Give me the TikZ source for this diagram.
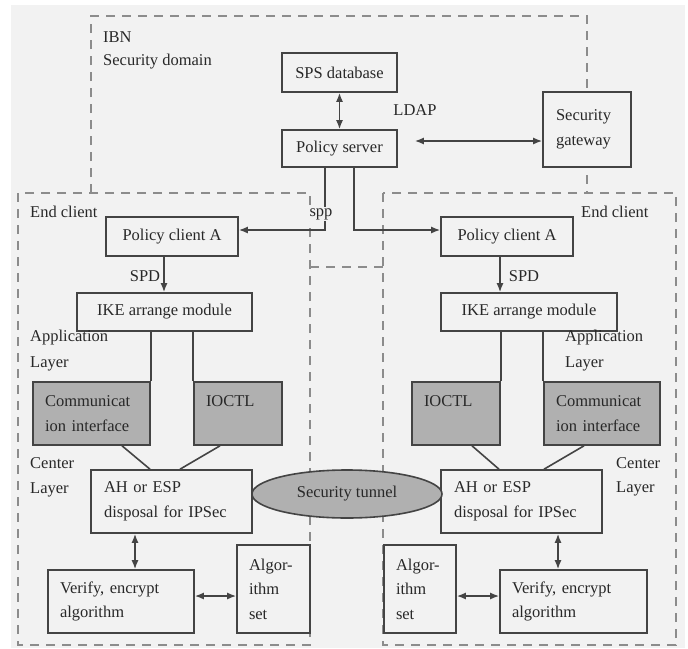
\documentclass[tikz,border=0pt]{standalone}
\usepackage{fontspec}
\setmainfont{Liberation Serif}
\usetikzlibrary{arrows.meta,shapes.geometric}
\definecolor{bg}{RGB}{242,242,242}
\definecolor{ln}{RGB}{68,68,68}
\definecolor{dsh}{RGB}{140,140,140}
\definecolor{gbox}{RGB}{176,176,176}
\definecolor{txt}{RGB}{40,40,40}
\begin{document}
\begin{tikzpicture}[x=1pt,y=-1pt,
  every node/.style={font=\fontsize{16.5}{24.5}\selectfont, text=txt, inner sep=0pt},
  bx/.style 2 args={draw=ln, line width=1.6pt, fill=bg, minimum width=#1, minimum height=#2},
  gbx/.style 2 args={bx={#1}{#2}, fill=gbox},
  ltxt/.style={align=left, text width=#1},
  lbl/.style={anchor=west},
  dashline/.style={draw=dsh, line width=1.6pt, dash pattern=on 9pt off 7pt},
  conn/.style={draw=ln, line width=1.6pt},
  arr/.style={conn, -{Latex[length=9pt,width=7pt]}},
  dbl/.style={conn, {Latex[length=9pt,width=7pt]}-{Latex[length=9pt,width=7pt]}}
]
\useasboundingbox (0,0) rectangle (688,648);
\fill[white] (0,0) rectangle (688,648);
\fill[bg] (11,5) rectangle (685,648);

% dashed domains
\draw[dashline] (91,193) -- (91,16) -- (587,16) -- (587,193);
\draw[dashline] (18,193) rectangle (310,645);
\draw[dashline] (383,193) rectangle (676,645);
\draw[dashline] (310,267) -- (383,267);

% top nodes
\node[bx={115}{39}] (spsdb) at (339.5,72.5) {SPS database};
\node[bx={115}{37}] (pserver) at (339.5,148.5) {Policy server};
\node[bx={88}{75}, ltxt=62] (gateway) at (587,129.5) {Security\\gateway};
\node[anchor=center] (ldap) at (415,110) {LDAP};
\node[lbl] (ibn) at (103,37) {IBN};
\node[lbl] (secdom) at (103,62) {Security domain};

% left client
\node[lbl] (endl) at (30,212) {End client};
\node[bx={132}{39}] (pcl) at (172,236.5) {Policy client A};
\node (spdl) at (145,276) {SPD};
\node[bx={175}{38}] (ikel) at (164.5,312) {IKE arrange module};
\node[lbl] (appl1) at (30,338) {Application};
\node[lbl] (appl2) at (30,364) {Layer};
\node[gbx={117}{63}, ltxt=93] (comml) at (91.5,413.5) {Communicat\\ion interface};
\node[gbx={88}{63}, ltxt=64] (ioctll) at (238,413.5) {IOCTL\\~};
\node[lbl] (centl1) at (30,463) {Center};
\node[lbl] (centl2) at (30,490) {Layer};
\node[bx={161}{63}, ltxt=135] (ahl) at (171.5,501.5) {AH or ESP\\disposal for IPSec};
\node[bx={146}{63}, ltxt=122] (verl) at (121,601.5) {Verify, encrypt\\algorithm};
\node[bx={73}{88}, ltxt=49] (algl) at (273.5,589) {Algor-\\ithm\\set};

% right client
\node[lbl] (endr) at (581,212) {End client};
\node[bx={132}{39}] (pcr) at (507,236.5) {Policy client A};
\node (spdr) at (524,276) {SPD};
\node[bx={176}{38}] (iker) at (529,312) {IKE arrange module};
\node[lbl] (appr1) at (565,338) {Application};
\node[lbl] (appr2) at (565,364) {Layer};
\node[gbx={88}{63}, ltxt=64] (ioctlr) at (456,413.5) {IOCTL\\~};
\node[gbx={116}{63}, ltxt=92] (commr) at (602,413.5) {Communicat\\ion interface};
\node[lbl] (centr1) at (616,463) {Center};
\node[lbl] (centr2) at (616,489) {Layer};
\node[bx={161}{63}, ltxt=135] (ahr) at (521.5,501.5) {AH or ESP\\disposal for IPSec};
\node[bx={147}{63}, ltxt=123] (verr) at (573.5,601.5) {Verify, encrypt\\algorithm};
\node[bx={72}{88}, ltxt=48] (algr) at (420,589) {Algor-\\ithm\\set};

% tunnel
\node[ellipse, draw=ln, line width=1.6pt, fill=gbox, minimum width=190, minimum height=48] (tunnel) at (347,494) {Security tunnel};

% connectors
\draw[dbl] (spsdb.south) -- (pserver.north);
\coordinate (ldapL) at ([xshift=17pt,yshift=7.5pt]pserver.east);
\draw[dbl] (ldapL) -- (ldapL -| gateway.west);
\draw[arr] ([xshift=-14.5pt]pserver.south) |- ([yshift=6.5pt]pcl.east);
\draw[arr] ([xshift=14.5pt]pserver.south) |- ([yshift=6.5pt]pcr.west);
\node[fill=bg, inner sep=1pt] (spp) at (321,214) {spp};

\coordinate (spdLtop) at ([xshift=-8pt]pcl.south);
\draw[arr] (spdLtop) -- (spdLtop |- ikel.north);
\coordinate (spdRtop) at ([xshift=-7pt]pcr.south);
\draw[arr] (spdRtop) -- (spdRtop |- iker.north);

\draw[conn] (ikel.south -| comml.east) -- (comml.north east);
\draw[conn] (ikel.south -| ioctll.west) -- (ioctll.north west);
\draw[conn] (iker.south -| ioctlr.east) -- (ioctlr.north east);
\draw[conn] (iker.south -| commr.west) -- (commr.north west);

\draw[conn] ([xshift=30.5pt]comml.south) -- ([xshift=-21.5pt]ahl.north);
\draw[conn] ([xshift=-18pt]ioctll.south) -- ([xshift=8.5pt]ahl.north);
\draw[conn] ([xshift=16pt]ioctlr.south) -- ([xshift=-22.5pt]ahr.north);
\draw[conn] ([xshift=-18pt]commr.south) -- ([xshift=22.5pt]ahr.north);

\coordinate (ahLb) at ([xshift=-36.5pt]ahl.south);
\draw[dbl] (ahLb) -- (ahLb |- verl.north);
\coordinate (ahRb) at ([xshift=36.5pt]ahr.south);
\draw[dbl] (ahRb) -- (ahRb |- verr.north);

\coordinate (verLe) at ([yshift=5.5pt]verl.east);
\draw[dbl] (verLe) -- (verLe -| algl.west);
\coordinate (verRw) at ([yshift=5.5pt]verr.west);
\draw[dbl] (verRw) -- (verRw -| algr.east);
\end{tikzpicture}
\end{document}
